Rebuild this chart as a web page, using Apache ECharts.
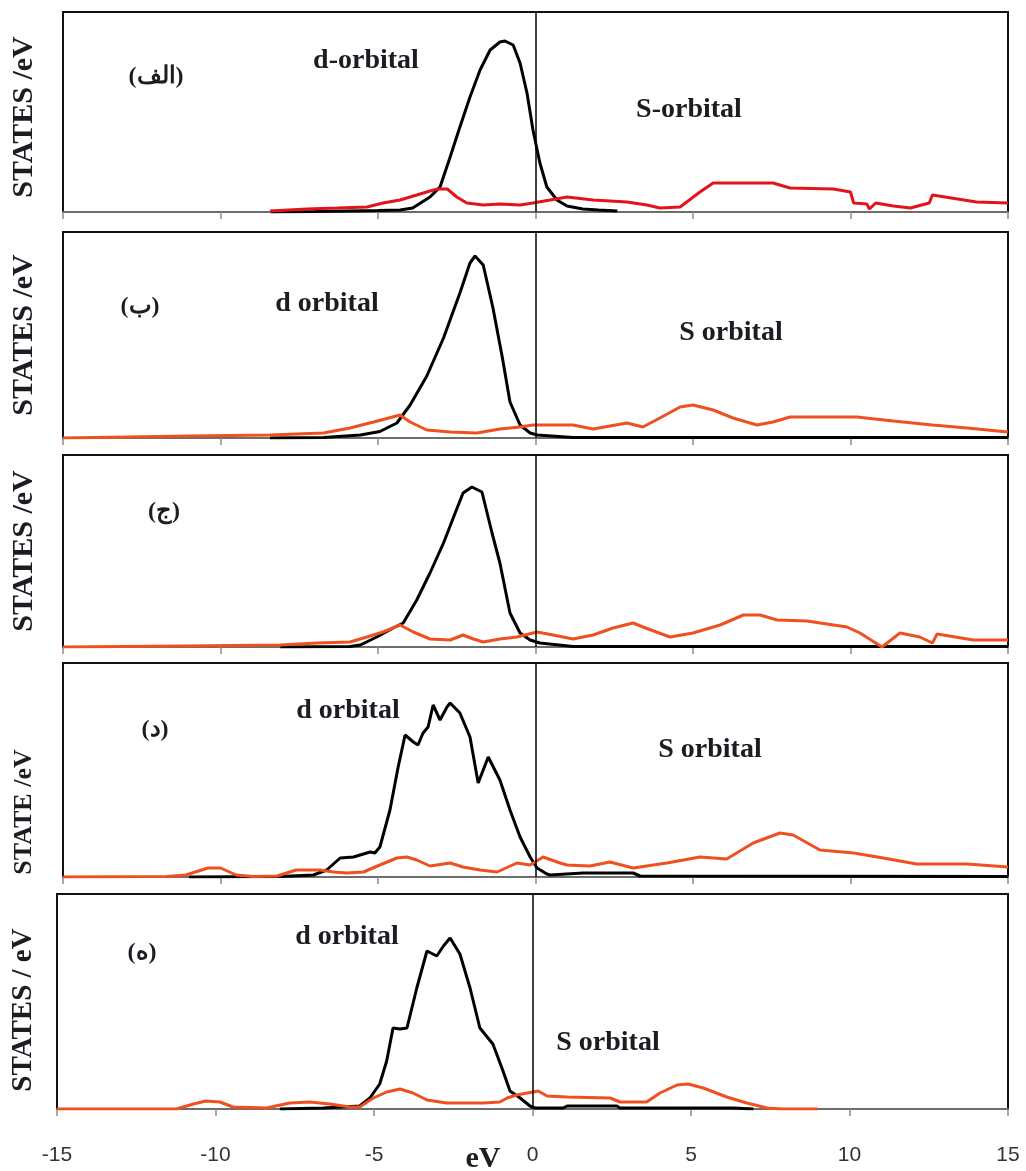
<!DOCTYPE html>
<html>
<head>
<meta charset="utf-8">
<style>
  html, body { margin: 0; padding: 0; background: #fff; }
  #chart { width: 1026px; height: 1171px; }
</style>
<script src="https://cdn.jsdelivr.net/npm/echarts@6/dist/echarts.min.js"></script>
</head>
<body>
<div id="chart"></div>
<script>
// energy axis (eV) shared by all panels
var xTicks = [-15, -10, -5, 0, 5, 10, 15];

// panel captions
var panelTags  = ['(الف)', '(ب)', '(ج)', '(د)', '(ه)'];
var yNames     = ['STATES /eV', 'STATES /eV', 'STATES /eV', 'STATE /eV', 'STATES / eV'];
var yMax       = [200, 206, 192, 214, 215];

// d orbital (black), [eV, states] in arbitrary units
var d1 = [[-8.4,0],[-7,0.5],[-6,1],[-5,1.5],[-4.3,2],[-3.9,4],[-3.35,15],[-3.03,25],[-2.71,55],[-2.4,85],[-2.08,115],[-1.76,142],[-1.44,162],[-1.13,170],[-0.97,171],[-0.71,167],[-0.49,149],[-0.27,119],[-0.08,82],[0.14,49],[0.36,25],[0.68,12],[1,6],[1.5,3],[2,2],[2.6,1]];
var d2 = [[-8.43,0],[-6.73,0.5],[-5.56,3],[-4.94,6.5],[-4.4,15],[-3.98,33],[-3.45,62],[-2.92,100],[-2.4,145],[-2.08,175],[-1.92,182],[-1.66,173],[-1.35,130],[-1.05,80],[-0.81,36],[-0.49,13],[-0.17,5],[0.05,3],[1.19,0.5],[15,0.5]];
var d3 = [[-8.1,0],[-5.89,0.5],[-5.56,2],[-5.04,10],[-4.52,19],[-4.2,24],[-3.77,47],[-3.35,74],[-2.92,104],[-2.6,130],[-2.3,154],[-2.02,160],[-1.7,155],[-1.38,114],[-1.13,84],[-0.81,34],[-0.49,14],[-0.17,7],[0.14,4],[1.19,0.5],[15,0.5]];
var d4 = [[-11,0],[-8.1,0.5],[-7.05,2],[-6.63,7],[-6.2,19],[-5.78,20],[-5.25,25],[-5.1,24],[-4.94,30],[-4.62,67],[-4.36,110],[-4.14,142],[-3.88,135],[-3.73,132],[-3.57,144],[-3.41,150],[-3.25,172],[-3.03,157],[-2.81,170],[-2.71,174],[-2.4,164],[-2.08,140],[-1.82,94],[-1.5,120],[-1.13,97],[-0.81,67],[-0.49,40],[-0.17,20],[0.05,9],[0.36,3],[0.46,2],[1.51,4],[3.1,4],[3.32,1],[15,0.5]];
var d5 = [[-7.97,0],[-6.6,1],[-5.45,3],[-5.13,11],[-4.82,25],[-4.6,48],[-4.4,81],[-4.18,80],[-3.96,81],[-3.65,121],[-3.33,158],[-3.02,153],[-2.81,163],[-2.6,171],[-2.29,155],[-1.97,121],[-1.66,81],[-1.25,65],[-0.93,38],[-0.71,18],[-0.39,11],[-0.08,3],[0.08,1],[0.97,1],[1.09,3],[2.66,3],[2.76,1],[6.34,1],[6.97,0]];

// s orbital (red / orange)
var s1 = [[-8.43,1],[-7.26,3],[-6.3,4],[-5.35,5],[-4.84,9],[-4.3,12],[-3.77,17],[-3.35,21],[-3.1,23],[-2.8,23],[-2.5,15],[-2.18,9],[-1.66,7],[-1.13,8],[-0.49,7],[-0.08,9],[0.46,12],[1,15],[1.83,12],[2.9,10],[3.54,7],[3.95,4],[4.59,5],[5.22,20],[5.64,29],[7.54,29],[8.08,24],[9.46,23],[10,20],[10.1,9],[10.52,8],[10.6,3],[10.8,9],[11.36,6],[11.9,4],[12.5,9],[12.6,17],[13.2,14],[14,10],[15,9]];
var s2 = [[-15,0],[-10.97,2],[-8.43,3],[-6.73,5],[-5.89,10],[-5.14,16],[-4.3,23],[-3.98,16],[-3.45,8],[-2.71,6],[-1.86,5],[-1.13,9],[-0.49,11],[-0.08,13],[1.19,13],[1.83,9],[2.9,15],[3.41,11],[3.95,20],[4.59,31],[5,33],[5.64,28],[6.27,20],[7.03,13],[7.54,16],[8.08,21],[10.2,21],[11.36,17],[12.6,13],[13.7,10],[15,6]];
var s3 = [[-15,0],[-11.2,1],[-8.1,2],[-6.94,4],[-5.89,5],[-5.35,10],[-4.84,15],[-4.3,22],[-3.88,15],[-3.35,8],[-2.71,7],[-2.3,12],[-1.97,8],[-1.66,5],[-1.13,8],[-0.59,10],[0.05,15],[0.56,12],[1.19,8],[1.83,12],[2.46,19],[3.1,24],[3.41,20],[4.27,10],[5,14],[5.86,22],[6.6,32],[7.13,32],[7.67,27],[8.62,26],[9.89,20],[10.3,14],[11,0],[11.57,14],[12.2,10],[12.6,4],[12.75,13],[13.9,7],[15,7]];
var s4 = [[-15,0],[-11.7,0.5],[-11.1,2],[-10.4,9],[-10,9],[-9.5,2],[-8.97,0.5],[-8.2,1],[-8.1,2],[-7.6,7],[-6.84,7],[-6.41,5],[-5.99,4],[-5.46,5],[-4.94,12],[-4.4,19],[-4.08,20],[-3.77,17],[-3.35,11],[-2.71,14],[-2.3,10],[-1.76,7],[-1.22,5],[-0.59,14],[-0.17,12],[0.24,20],[0.78,14],[1,12],[1.73,11],[2.36,15],[3.1,9],[4.17,14],[5.22,20],[6.07,18],[6.91,34],[7.76,44],[8.18,42],[9.03,27],[10.1,24],[11.04,19],[12.1,13],[13.7,13],[15,10]];
var s5 = [[-15,0],[-11.23,0],[-10.7,5],[-10.3,8],[-9.86,7],[-9.45,2],[-8.39,1],[-7.66,6],[-7.03,7],[-6.4,5],[-5.76,2],[-5.45,2],[-5.02,11],[-4.6,17],[-4.18,20],[-3.77,16],[-3.33,9],[-2.71,6],[-1.55,6],[-1.03,7],[-0.8,11],[-0.5,14],[0.18,18],[0.46,13],[1.09,12],[2.45,11],[2.76,7],[3.6,7],[4.02,16],[4.56,24],[4.91,25],[5.39,21],[6.13,12],[6.76,6],[7.4,1],[7.9,0],[9,0]];

var dSeries = [d1, d2, d3, d4, d5];
var sSeries = [s1, s2, s3, s4, s5];

// layout of the five stacked panels
var gridLeft   = [63, 63, 63, 63, 57];
var gridTop    = [12, 232, 455, 663, 894];
var gridHeight = [200, 206, 192, 214, 215];
var sColor     = ['#e3131b', '#ee5020', '#ee5020', '#ee5020', '#ee5020'];

var serif = '"Liberation Serif", "Times New Roman", "DejaVu Serif", serif';
var ink   = '#1c1c22';

var chart = echarts.init(document.getElementById('chart'), null, {renderer: 'canvas'});

var grids = [], xAxes = [], yAxes = [], series = [];

for(var i = 0; i < 5; i++) {
  grids.push({
    left: gridLeft[i], right: 18, top: gridTop[i], height: gridHeight[i],
    show: true, borderColor: '#111', borderWidth: 2
  });
  xAxes.push({
    type: 'value', gridIndex: i,
    min: xTicks[0], max: xTicks[xTicks.length - 1], interval: 5,
    axisLine: {lineStyle: {color: '#8c8c8c', width: 1.5}},
    axisTick: {show: true, inside: false, length: 7, lineStyle: {color: '#8c8c8c', width: 1.5}},
    splitLine: {show: false},
    axisLabel: {
      show: i === 4, margin: 36,
      fontFamily: '"Liberation Sans", Arial, sans-serif', fontSize: 21, color: '#333'
    }
  });
  yAxes.push({
    type: 'value', gridIndex: i, min: 0, max: yMax[i],
    axisLine: {show: false}, axisTick: {show: false},
    axisLabel: {show: false}, splitLine: {show: false}
  });
  series.push({
    name: 'd orbital', type: 'line', xAxisIndex: i, yAxisIndex: i,
    data: dSeries[i], showSymbol: false, symbol: 'none',
    lineStyle: {color: '#000', width: 3}, z: 3,
    markLine: {
      silent: true, symbol: ['none', 'none'], label: {show: false},
      lineStyle: {color: '#000', width: 1.5, type: 'solid'},
      data: [{xAxis: 0}]
    }
  });
  series.push({
    name: 'S orbital', type: 'line', xAxisIndex: i, yAxisIndex: i,
    data: sSeries[i], showSymbol: false, symbol: 'none',
    lineStyle: {color: sColor[i], width: 3}, z: 4
  });
}

// captions and labels
function txt(x, y, s, size, rot) {
  return {
    type: 'text', x: x, y: y, rotation: rot || 0, z: 10,
    style: {
      text: s, x: 0, y: 0, align: 'center', verticalAlign: 'middle',
      font: 'bold ' + size + 'px ' + serif, fill: ink
    }
  };
}

var graphics = [
  txt(156, 77, panelTags[0], 24),
  txt(366, 61, 'd-orbital', 28),
  txt(689, 110, 'S-orbital', 28),

  txt(140, 307, panelTags[1], 24),
  txt(327, 304, 'd orbital', 28),
  txt(731, 333, 'S orbital', 28),

  txt(164, 512, panelTags[2], 24),

  txt(155, 730, panelTags[3], 24),
  txt(348, 711, 'd orbital', 28),
  txt(710, 750, 'S orbital', 28),

  txt(142, 953, panelTags[4], 24),
  txt(347, 937, 'd orbital', 28),
  txt(608, 1043, 'S orbital', 28),

  txt(24, 117, yNames[0], 30, Math.PI / 2),
  txt(24, 335, yNames[1], 30, Math.PI / 2),
  txt(24, 551, yNames[2], 30, Math.PI / 2),
  txt(24, 812, yNames[3], 26, Math.PI / 2),
  txt(24, 1010, yNames[4], 29, Math.PI / 2),

  txt(483, 1159, 'eV', 30)
];

var option = {
  backgroundColor: '#fff',
  animation: false,
  grid: grids,
  xAxis: xAxes,
  yAxis: yAxes,
  series: series,
  graphic: graphics
};

chart.setOption(option, true);
</script>
</body>
</html>
